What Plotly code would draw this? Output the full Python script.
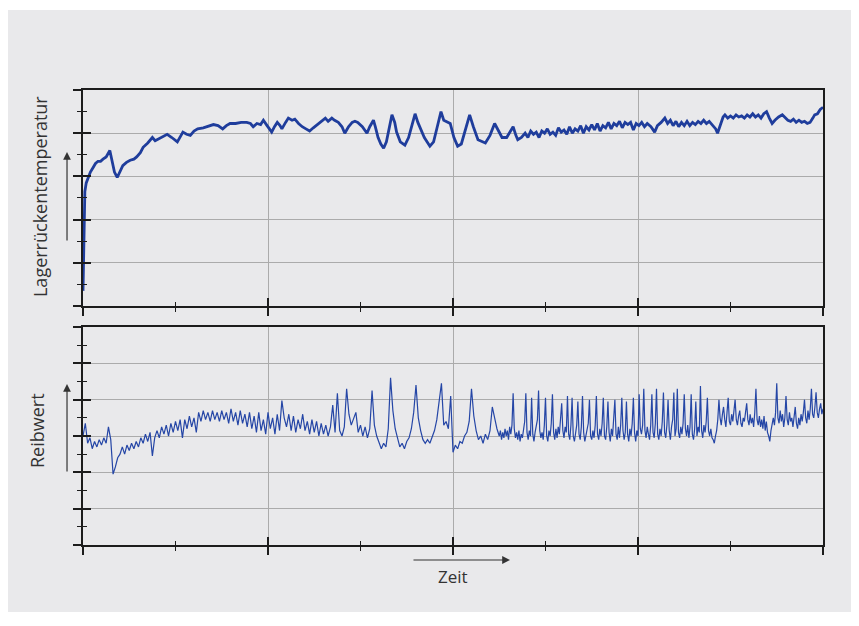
import plotly.graph_objects as go

# ---------------- data ----------------
# upper panel: bearing back temperature (arbitrary units 0..10) vs time (0..8)
t_top = [0.00, 0.005, 0.01, 0.015, 0.02, 0.035, 0.054, 0.08, 0.108, 0.135,
         0.162, 0.19, 0.216, 0.25, 0.29, 0.31, 0.34, 0.37, 0.40, 0.43,
         0.47, 0.51, 0.55, 0.58, 0.62, 0.65, 0.70, 0.75, 0.78, 0.80,
         0.85, 0.91, 0.96, 1.02, 1.06, 1.08, 1.12, 1.16, 1.20, 1.24,
         1.30, 1.36, 1.41, 1.46, 1.51, 1.55, 1.59, 1.65, 1.71, 1.77,
         1.81, 1.84, 1.88, 1.92, 1.95, 1.99, 2.04, 2.07, 2.10, 2.13,
         2.15, 2.19, 2.22, 2.26, 2.29, 2.33, 2.37, 2.41, 2.45, 2.49,
         2.53, 2.57, 2.62, 2.65, 2.69, 2.72, 2.76, 2.80, 2.83, 2.87,
         2.91, 2.94, 2.97, 3.02, 3.07, 3.10, 3.14, 3.16, 3.19, 3.22,
         3.25, 3.28, 3.31, 3.34, 3.37, 3.39, 3.43, 3.48, 3.52, 3.56,
         3.59, 3.62, 3.64, 3.69, 3.75, 3.79, 3.83, 3.87, 3.90, 3.94,
         3.97, 4.01, 4.05, 4.09, 4.14, 4.18, 4.22, 4.27, 4.35, 4.40,
         4.45, 4.49, 4.53, 4.58, 4.62, 4.65, 4.68, 4.70, 4.74, 4.78,
         4.81, 4.84, 4.87, 4.90, 4.93, 4.96, 4.99, 5.02, 5.05, 5.08,
         5.11, 5.14, 5.17, 5.20, 5.23, 5.26, 5.29, 5.32, 5.35, 5.38,
         5.41, 5.44, 5.47, 5.50, 5.53, 5.56, 5.59, 5.62, 5.65, 5.68,
         5.71, 5.74, 5.77, 5.80, 5.83, 5.86, 5.89, 5.92, 5.95, 5.98,
         6.01, 6.04, 6.07, 6.10, 6.14, 6.18, 6.21, 6.25, 6.29, 6.32,
         6.35, 6.38, 6.41, 6.44, 6.47, 6.50, 6.53, 6.56, 6.59, 6.62,
         6.65, 6.68, 6.71, 6.74, 6.77, 6.80, 6.84, 6.86, 6.89, 6.92,
         6.94, 6.97, 7.00, 7.03, 7.06, 7.09, 7.12, 7.15, 7.18, 7.21,
         7.24, 7.27, 7.30, 7.33, 7.36, 7.39, 7.42, 7.45, 7.48, 7.52,
         7.56, 7.59, 7.62, 7.65, 7.68, 7.71, 7.74, 7.77, 7.80, 7.83,
         7.86, 7.89, 7.91, 7.94, 7.97, 8.00]
v_top = [0.7, 2.0, 3.5, 4.6, 5.3, 5.7, 5.9, 6.2, 6.4, 6.6,
         6.7, 6.7, 6.8, 6.9, 7.2, 6.8, 6.2, 5.95, 6.2, 6.5,
         6.65, 6.75, 6.8, 6.9, 7.1, 7.35, 7.55, 7.8, 7.65, 7.7,
         7.8, 7.95, 7.8, 7.6, 7.9, 8.05, 7.95, 7.9, 8.1, 8.2,
         8.25, 8.35, 8.4, 8.35, 8.2, 8.35, 8.45, 8.45, 8.5, 8.5,
         8.45, 8.3, 8.45, 8.4, 8.6, 8.35, 8.05, 8.3, 8.5, 8.35,
         8.2, 8.5, 8.7, 8.6, 8.65, 8.45, 8.3, 8.2, 8.1, 8.25,
         8.4, 8.55, 8.7, 8.55, 8.7, 8.6, 8.5, 8.3, 8.0, 8.3,
         8.5, 8.55, 8.5, 8.3, 8.0, 8.3, 8.6, 8.3, 7.8, 7.5,
         7.3, 7.6, 8.2, 8.85, 8.5, 8.05, 7.6, 7.45, 7.8, 8.5,
         8.9, 8.5, 8.3, 7.8, 7.4, 7.6, 8.3, 9.0, 8.6, 8.5,
         8.45, 7.8, 7.4, 7.5, 8.3, 8.85, 8.3, 7.7, 7.55, 7.9,
         8.45, 8.1, 7.8, 7.8, 8.1, 8.3, 7.9, 7.7, 7.8, 8.0,
         7.8, 8.1, 7.95, 8.05, 7.8, 8.1, 8.0, 8.2, 7.95, 8.05,
         7.9, 8.25, 8.05, 8.15, 7.95, 8.3, 8.0, 8.2, 8.1, 8.35,
         8.0, 8.3, 8.15, 8.4, 8.15, 8.45, 8.1, 8.35, 8.25, 8.5,
         8.2, 8.45, 8.35, 8.55, 8.25, 8.5, 8.4, 8.5, 8.15, 8.45,
         8.35, 8.5, 8.3, 8.45, 8.3, 8.05, 8.35, 8.5, 8.7, 8.45,
         8.6, 8.35, 8.55, 8.3, 8.5, 8.35, 8.55, 8.35, 8.5, 8.4,
         8.55, 8.45, 8.6, 8.45, 8.55, 8.4, 8.2, 8.0, 8.4, 8.75,
         8.85, 8.7, 8.8, 8.7, 8.85, 8.75, 8.8, 8.7, 8.85, 8.75,
         8.9, 8.75, 8.85, 8.7, 8.9, 9.0, 8.7, 8.45, 8.6, 8.75,
         8.85, 8.7, 8.6, 8.55, 8.65, 8.5, 8.6, 8.5, 8.55, 8.45,
         8.5, 8.7, 8.85, 8.9, 9.1, 9.2]

# lower panel: friction coefficient (arbitrary units 0..12)
# part A: t = 0 .. 4.475, one reading every 0.025
dt_bot_a = 0.025
v_bot_a = [6.0, 6.7, 5.6, 5.9, 5.3, 5.7, 5.4, 5.8, 5.5, 5.9,
           5.6, 6.5, 5.8, 3.9, 4.3, 4.8, 5.0, 5.4, 5.0, 5.5,
           5.2, 5.6, 5.3, 5.7, 5.4, 5.9, 5.6, 6.1, 5.7, 6.2,
           4.9, 5.9, 6.3, 5.9, 6.5, 6.1, 6.6, 6.0, 6.7, 6.2,
           6.8, 6.3, 6.9, 5.9, 6.9, 6.4, 7.1, 6.5, 7.0, 6.2,
           7.3, 6.8, 7.4, 6.9, 7.3, 6.8, 7.4, 6.9, 7.3, 6.8,
           7.4, 6.9, 7.3, 6.7, 7.5, 6.8, 7.3, 6.6, 7.4, 6.7,
           7.2, 6.5, 7.3, 6.4, 7.1, 6.2, 7.3, 6.3, 6.9, 6.1,
           7.3, 6.4, 7.0, 6.1, 7.2, 6.3, 7.95, 7.0, 6.5, 7.2,
           6.3, 7.1, 6.2, 6.9, 6.4, 7.2, 6.3, 6.8, 6.1, 6.9,
           6.2, 6.8, 6.0, 6.7, 6.1, 6.6, 6.0, 6.5, 7.7, 6.2,
           8.35, 6.3, 6.0, 6.5, 8.6, 7.2, 6.6, 6.9, 7.3, 6.2,
           6.6, 6.0, 6.5, 5.9, 6.4, 8.5, 6.6, 6.0, 5.7, 5.3,
           5.6, 5.4, 6.4, 9.2, 7.4, 6.4, 5.9, 5.4, 5.6, 5.3,
           5.7, 5.9, 6.4, 7.3, 8.8, 7.0, 6.3, 5.8, 5.6, 5.8,
           5.6, 5.9, 6.3, 6.9, 7.8, 8.9, 6.6, 6.8, 6.4, 8.2,
           5.1, 5.5, 5.3, 5.7, 5.6, 6.0, 6.2, 6.8, 8.6, 7.1,
           6.3, 5.8, 6.0, 5.6, 6.1, 5.8, 6.3, 7.6, 7.0, 6.4]
# part B: t = 4.5 .. 8.0, one reading every 0.0125
t_bot_b0 = 4.5
dt_bot_b = 0.0125
v_bot_b = [6.0, 6.3, 5.8, 6.2, 5.9, 6.4, 6.0, 6.3, 5.8, 6.5,
           6.1, 6.6, 8.35, 6.4, 5.9, 6.2, 5.8, 6.3, 5.7, 6.1,
           5.9, 6.4, 6.8, 8.35, 6.2, 5.8, 6.3, 6.0, 8.1, 6.1,
           5.7, 6.2, 6.5, 6.9, 8.5, 6.3, 5.9, 6.2, 5.8, 6.6,
           8.1, 6.0, 5.7, 6.3, 6.0, 6.7, 8.3, 6.2, 5.8, 6.4,
           5.9, 6.5, 6.1, 6.8, 7.8, 6.3, 5.9, 6.5, 6.2, 8.2,
           6.1, 5.8, 6.6, 8.1, 6.0, 5.7, 6.3, 6.6, 7.9, 6.1,
           5.8, 6.5, 8.2, 6.2, 5.7, 6.1, 6.4, 6.7, 8.0, 6.0,
           5.8, 6.3, 5.9, 6.6, 8.2, 6.1, 5.8, 6.4, 6.0, 6.7,
           8.1, 6.0, 5.8, 6.5, 7.9, 6.2, 5.7, 6.4, 6.0, 6.8,
           8.0, 6.1, 5.8, 6.5, 5.9, 6.6, 8.1, 6.3, 5.8, 6.2,
           7.9, 6.1, 5.7, 6.4, 6.0, 6.7, 8.1, 6.2, 5.7, 6.3,
           6.0, 8.3, 6.4, 6.1, 6.6, 8.6, 6.3, 5.9, 6.5, 6.1,
           5.8, 6.6, 8.3, 6.2, 5.9, 6.7, 8.6, 6.1, 5.8, 6.4,
           6.0, 6.8, 8.4, 6.2, 5.9, 6.6, 8.0, 6.3, 5.8, 6.5,
           6.9, 8.4, 6.0, 6.4, 8.6, 6.2, 5.9, 6.5, 6.1, 6.7,
           8.3, 6.4, 6.0, 6.6, 5.9, 6.5, 8.3, 6.1, 5.8, 6.4,
           7.9, 6.0, 6.5, 6.2, 8.75, 6.3, 5.9, 6.6, 6.2, 6.8,
           8.1, 6.3, 6.0, 6.4, 5.9, 5.8, 5.6, 6.0, 6.3, 6.9,
           8.0, 7.0, 6.6, 7.2, 7.6, 6.9, 6.5, 7.3, 8.1, 6.8,
           6.6, 7.2, 6.8, 7.4, 8.0, 6.9, 6.6, 7.1, 7.4, 6.7,
           6.5, 7.0, 6.8, 7.3, 7.8, 6.9, 6.6, 7.2, 6.7, 7.0,
           6.5, 7.3, 8.6, 6.9, 6.6, 7.1, 6.5, 6.9, 6.4, 7.1,
           6.3, 6.8, 6.2, 6.0, 5.7, 6.3, 6.7, 7.0, 6.6, 7.3,
           8.9, 7.0, 6.7, 7.4, 6.8, 7.2, 6.5, 7.0, 8.2, 6.9,
           6.6, 7.3, 6.8, 7.0, 6.5, 7.1, 7.6, 6.7, 6.4, 7.0,
           6.6, 7.2, 6.8, 7.3, 8.0, 7.0, 6.7, 7.4, 6.9, 7.5,
           8.6, 7.2, 7.0, 7.6, 8.4, 7.3, 7.0, 7.5, 7.8, 7.2,
           7.5]
t_bot = ([i * dt_bot_a for i in range(len(v_bot_a))]
         + [t_bot_b0 + j * dt_bot_b for j in range(len(v_bot_b))])
v_bot = v_bot_a + v_bot_b

x_range = [0, 8]
y_top_range = [0, 10]
y_bot_range = [0, 12]

label_top = "Lagerrückentemperatur"
label_bot = "Reibwert"
label_x = "Zeit"

# ---------------- styling ----------------
BG = "#e9e9eb"
AX = "#1c1c1c"
GRID = "#ababab"
LINE = "#1f3d9c"
TXT = "#333333"
FONT = "Open Sans"

fig = go.Figure()
fig.add_trace(go.Scatter(x=t_top, y=v_top, xaxis="x", yaxis="y", mode="lines",
                         line=dict(color=LINE, width=2.8), showlegend=False, hoverinfo="skip"))
fig.add_trace(go.Scatter(x=t_bot, y=v_bot, xaxis="x2", yaxis="y2", mode="lines",
                         line=dict(color="#2546a6", width=1.2), showlegend=False, hoverinfo="skip"))
# empty traces so the overlay tick axes (inner half of crossing ticks) are drawn
for xa, ya in [("x", "y3"), ("x3", "y"), ("x2", "y4"), ("x4", "y2")]:
    fig.add_trace(go.Scatter(x=[None], y=[None], xaxis=xa, yaxis=ya, mode="lines",
                             showlegend=False, hoverinfo="skip"))


def main_axis(rng, dtick, **kw):
    d = dict(range=rng, showline=True, linecolor=AX, linewidth=2, mirror=True,
             ticks="outside", ticklen=8, tickwidth=1.6, tickcolor=AX,
             tick0=0, dtick=dtick, showticklabels=False,
             showgrid=True, gridcolor=GRID, gridwidth=1, zeroline=False,
             minor=dict(ticks="outside", ticklen=4, tickwidth=1.4, tickcolor=AX,
                        tick0=0, dtick=1, showgrid=False),
             fixedrange=True)
    d.update(kw)
    return d


def inner_axis(rng, dtick, **kw):
    d = dict(range=rng, showline=False, ticks="inside", ticklen=8, tickwidth=1.6,
             tickcolor=AX, tick0=0, dtick=dtick, showticklabels=False,
             showgrid=False, zeroline=False,
             minor=dict(ticks="inside", ticklen=4, tickwidth=1.4, tickcolor=AX,
                        tick0=0, dtick=1, showgrid=False),
             fixedrange=True)
    d.update(kw)
    return d


top_dom = [0.5253, 1.0]
bot_dom = [0.0, 0.4791]

# the page body adds an 8px offset; figure size/margins compensate for it
fig.update_layout(
    width=851, height=610, autosize=False,
    margin=dict(l=75, r=36, t=82, b=73, pad=0),
    paper_bgcolor="white", plot_bgcolor=BG,
    font=dict(family=FONT, color=TXT),
    xaxis=main_axis(x_range, 2, domain=[0, 1], anchor="y"),
    yaxis=main_axis(y_top_range, 2, domain=top_dom, anchor="x"),
    xaxis2=main_axis(x_range, 2, domain=[0, 1], anchor="y2"),
    yaxis2=main_axis(y_bot_range, 2, domain=bot_dom, anchor="x2"),
    xaxis3=inner_axis(x_range, 2, overlaying="x", anchor="y", side="bottom"),
    yaxis3=inner_axis(y_top_range, 2, overlaying="y", anchor="x", side="left"),
    xaxis4=inner_axis(x_range, 2, overlaying="x2", anchor="y2", side="bottom"),
    yaxis4=inner_axis(y_bot_range, 2, overlaying="y2", anchor="x2", side="left"),
    shapes=[dict(type="rect", xref="paper", yref="paper",
                 x0=-0.2, x1=1.1, y0=-0.1473, y1=1.1758,
                 fillcolor=BG, line=dict(width=0), layer="below")],
    annotations=[
        dict(text=label_top, xref="paper", yref="paper", x=-0.0581, y=0.7648,
             textangle=-90, showarrow=False, xanchor="center", yanchor="middle",
             font=dict(size=18, color=TXT, family=FONT)),
        dict(text=label_bot, xref="paper", yref="paper", x=-0.0622, y=0.2527,
             textangle=-90, showarrow=False, xanchor="center", yanchor="middle",
             font=dict(size=18, color=TXT, family=FONT)),
        dict(text=label_x, xref="paper", yref="paper", x=0.5, y=-0.0703,
             showarrow=False, xanchor="center", yanchor="middle",
             font=dict(size=17, color=TXT, family=FONT)),
        # arrows
        dict(text="", xref="paper", yref="paper", x=-0.0216, y=0.8637,
             ax=0, ay=90, showarrow=True, arrowhead=2, arrowsize=1.3,
             arrowwidth=1.2, arrowcolor=TXT),
        dict(text="", xref="paper", yref="paper", x=-0.0216, y=0.3538,
             ax=0, ay=89, showarrow=True, arrowhead=2, arrowsize=1.3,
             arrowwidth=1.2, arrowcolor=TXT),
        dict(text="", xref="paper", yref="paper", x=0.577, y=-0.033,
             ax=-98, ay=0, showarrow=True, arrowhead=2, arrowsize=1.3,
             arrowwidth=1.2, arrowcolor=TXT),
    ],
)

fig.write_html("out.html")
